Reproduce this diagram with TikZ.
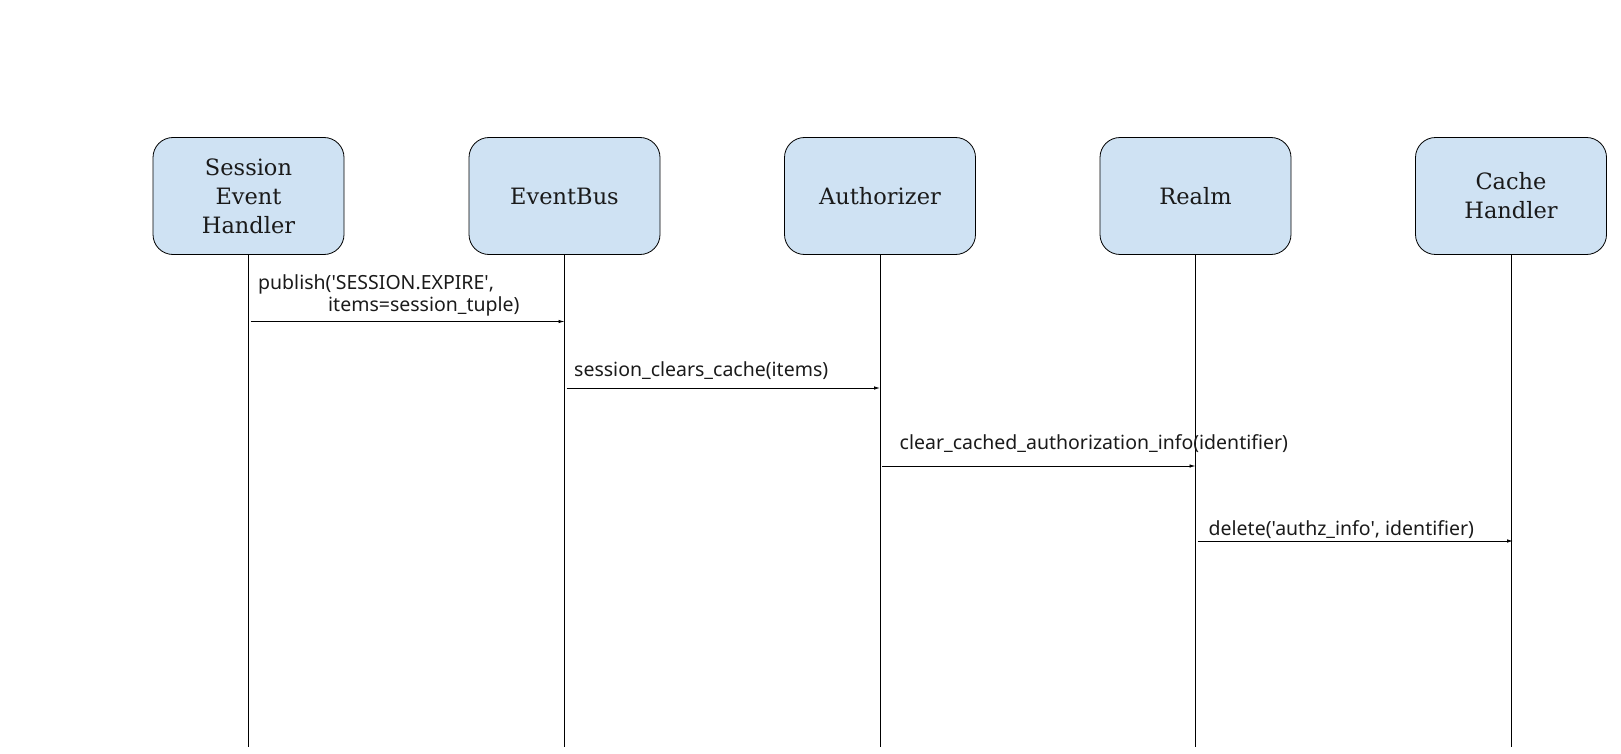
\documentclass[tikz,border=0pt]{standalone}
\usepackage{fontspec}
\setmainfont{DejaVu Serif}
\newfontfamily\lblfont{Noto Sans}
\usetikzlibrary{arrows.meta}
\definecolor{boxfill}{HTML}{CFE2F3}
\definecolor{txt}{HTML}{1A1A1A}
\begin{document}
\begin{tikzpicture}[x=1pt,y=-1pt,
  actor/.style={draw=black, line width=0.8pt, fill=boxfill, rounded corners=20pt,
    minimum width=191pt, minimum height=117pt, align=center, text=txt,
    font=\fontsize{22.5}{29}\selectfont, inner sep=0pt},
  life/.style={line width=0.8pt},
  msg/.style={line width=0.8pt, -{Latex[length=6pt,width=3.5pt]}},
  lbl/.style={anchor=west, text=txt, font=\lblfont\fontsize{19.5}{22.7}\selectfont, inner sep=0pt, align=left}]
\useasboundingbox (0,0) rectangle (1621,754);
% actors
\node[actor] (seh) at (248.5,196) {Session\\Event\\Handler};
\node[actor] (bus) at (564.5,196) {EventBus};
\node[actor] (auth) at (880,196) {Authorizer};
\node[actor] (realm) at (1195.5,196) {Realm};
\node[actor] (cache) at (1511,196) {Cache\\Handler};
% lifeline ends
\coordinate (sehE) at (248.5,747);
\coordinate (busE) at (564.5,747);
\coordinate (authE) at (880,747);
\coordinate (realmE) at (1195.5,747);
\coordinate (cacheE) at (1511,747);
\draw[life] (seh.south) -- (sehE);
\draw[life] (bus.south) -- (busE);
\draw[life] (auth.south) -- (authE);
\draw[life] (realm.south) -- (realmE);
\draw[life] (cache.south) -- (cacheE);
% message points
\coordinate (m1s) at (250.5,321.5); \coordinate (m1e) at (564.5,321.5);
\coordinate (m2s) at (566.5,388);   \coordinate (m2e) at (880,388);
\coordinate (m3s) at (882,466);     \coordinate (m3e) at (1195.5,466);
\coordinate (m4s) at (1197.5,541);  \coordinate (m4e) at (1513,541);
\draw[msg] (m1s) -- (m1e);
\draw[msg] (m2s) -- (m2e);
\draw[msg] (m3s) -- (m3e);
\draw[msg] (m4s) -- (m4e);
% labels
\node[lbl] (l1a) at (258,284) {publish('SESSION.EXPIRE',};
\node[lbl] (l1b) at (328,306.5) {items=session\_tuple)};
\node[lbl] (l2) at (574,370.5) {session\_clears\_cache(items)};
\node[lbl] (l3) at (899.5,444) {clear\_cached\_authorization\_info(identifier)};
\node[lbl] (l4) at (1208.5,529.5) {delete('authz\_info', identifier)};
\end{tikzpicture}
\end{document}
